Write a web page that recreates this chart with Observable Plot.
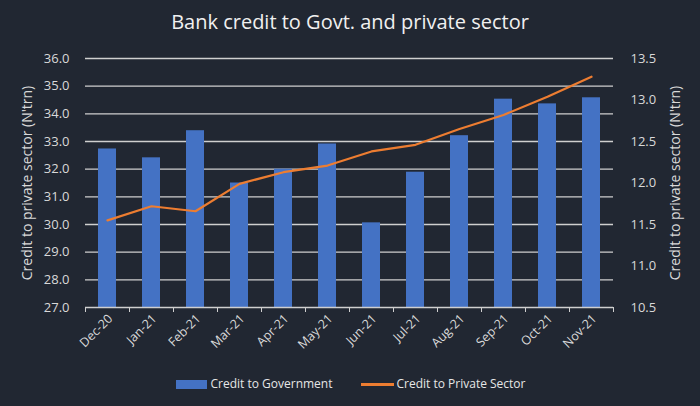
<!DOCTYPE html>
<html>
<head>
<meta charset="utf-8">
<script src="https://cdn.jsdelivr.net/npm/d3@7"></script>
<script src="https://cdn.jsdelivr.net/npm/@observablehq/plot@0.6"></script>
<style>
  html, body { margin: 0; padding: 0; background: #212732; }
  body { width: 700px; height: 406px; overflow: hidden; font-family: "Open Sans", Lato, sans-serif; color: #e6e6e6; }
  #title { height: 40px; line-height: 44px; text-align: center; font-size: 20px; color: #f0f0f0; }
  #chart { height: 320px; }
  #legend { height: 46px; display: flex; justify-content: center; align-items: center; gap: 28px; font-size: 12px; color: #e6e6e6; padding-left: 2px; }
  .sw { display: inline-block; vertical-align: middle; margin-right: 3px; }
</style>
</head>
<body>
<div id="title">Bank credit to Govt. and private sector</div>
<div id="chart"></div>
<div id="legend">
  <span><span class="sw" style="width:31px;height:9px;background:#4472C4"></span>Credit to Government</span>
  <span><span class="sw" style="width:33px;height:3px;background:#ED7D31"></span>Credit to Private Sector</span>
</div>
<script>
const months = ["Dec-20","Jan-21","Feb-21","Mar-21","Apr-21","May-21","Jun-21","Jul-21","Aug-21","Sep-21","Oct-21","Nov-21"];
const govt = [32.73, 32.41, 33.39, 31.5, 32.0, 32.91, 30.06, 31.89, 33.21, 34.53, 34.36, 34.58];
const priv = [11.55, 11.72, 11.66, 11.99, 12.13, 12.21, 12.38, 12.46, 12.65, 12.82, 13.04, 13.28];
const leftTicks = [27, 28, 29, 30, 31, 32, 33, 34, 35, 36];
const rightTicks = [10.5, 11, 11.5, 12, 12.5, 13, 13.5];
const axisTitle = "Credit to private sector (N'trn)";

// map right-axis values onto the left-axis scale
const toLeft = v => 27 + (v - 10.5) * 3;
const toRight = v => (v - 27) / 3 + 10.5;

const rows = months.map((m, i) => ({month: m, govt: govt[i], priv: priv[i], privL: toLeft(priv[i])}));

const W = 700, H = 320, mt = 18, mb = 53, ml = 85, mr = 87;
const step = (W - ml - mr) / months.length;
const textColor = "#d9d9d9";

const chart = Plot.plot({
  width: W, height: H,
  marginTop: mt, marginBottom: mb, marginLeft: ml, marginRight: mr,
  style: {background: "transparent", color: textColor, fontFamily: "'Open Sans', Lato, sans-serif", fontSize: "13px"},
  x: {domain: months, paddingInner: 0.6, paddingOuter: 0.3, align: 0.5},
  y: {domain: [27, 36]},
  marks: [
    Plot.ruleY(leftTicks.slice(1), {stroke: "#cfcfcf", strokeWidth: 1.3}),
    Plot.barY(rows, {x: "month", y1: 27, y2: "govt", fill: "#4472C4"}),
    Plot.ruleY([27], {stroke: "#cfcfcf", strokeWidth: 1.5}),
    Plot.tickX(months, {x: d => d, dx: -step / 2, insetTop: H - mt - mb - 5, dy: 5, stroke: "#cfcfcf"}),
    Plot.tickX([months[months.length - 1]], {x: d => d, dx: step / 2, insetTop: H - mt - mb - 5, dy: 5, stroke: "#cfcfcf"}),
    Plot.lineY(rows, {x: "month", y: "privL", stroke: "#ED7D31", strokeWidth: 2.2}),
    Plot.axisY(leftTicks, {anchor: "left", tickSize: 0, tickPadding: 16, tickFormat: d => d.toFixed(1), fontSize: 13,
      label: null}),
    Plot.axisY(rightTicks.map(toLeft), {anchor: "right", tickSize: 0, tickPadding: 17, tickFormat: d => toRight(d).toFixed(1), fontSize: 13,
      label: null}),
    Plot.text([axisTitle], {frameAnchor: "left", textAnchor: "middle", dx: -58, rotate: -90, fontSize: 14, fill: textColor}),
    Plot.text([axisTitle], {frameAnchor: "right", textAnchor: "middle", dx: 62, rotate: -90, fontSize: 14, fill: textColor}),
    Plot.axisX({tickSize: 0, tickRotate: -45, tickPadding: 9, fontSize: 12.5, label: null, dx: 3})
  ]
});
document.getElementById("chart").append(chart);
</script>
</body>
</html>
